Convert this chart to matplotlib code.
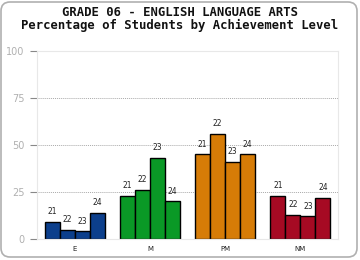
# Grade 06 ELA achievement level chart
import numpy as np
import matplotlib.pyplot as plt
from matplotlib.patches import FancyBboxPatch

# Data
levels = ['E', 'M', 'PM', 'NM']
years = ['21', '22', '23', '24']
pct_e = [9, 5, 4, 14]
pct_m = [23, 26, 43, 20]
pct_pm = [45, 56, 41, 45]
pct_nm = [23, 13, 12, 22]
colors = ['#0c3f8c', '#0a9926', '#d67c07', '#a60a23']
yticks = [0, 25, 50, 75, 100]

values = [pct_e, pct_m, pct_pm, pct_nm]

fig = plt.figure(figsize=(3.6, 2.6), dpi=100)
ax = fig.add_axes([37/360, 1-239/260, 301/360, 188.3/260])

# Rounded frame around the whole figure
frame = FancyBboxPatch((1/360, 3/260), 356/360, 255/260,
                       boxstyle='round,pad=0,rounding_size=0.025',
                       mutation_aspect=360/260,
                       transform=fig.transFigure, facecolor='none',
                       edgecolor='#b0b0b0', linewidth=1.2)
fig.patches.append(frame)

w = 0.2
for g, (vals, col) in enumerate(zip(values, colors)):
    for k, v in enumerate(vals):
        x = g - 0.3 + k * w
        ax.bar(x, v, width=w, color=col, edgecolor='black', linewidth=1)
        ax.annotate(years[k], (x, v), xytext=(0, 4), textcoords='offset points',
                    ha='center', va='bottom', fontsize=5.5, color='#222222')

ax.set_xlim(-0.5, 3.5)
ax.set_ylim(0, 100)
ax.set_xticks(range(4))
ax.set_xticklabels(levels, fontsize=5, color='#222222')
ax.tick_params(axis='x', length=0, pad=5)
ax.set_yticks(yticks)
ax.set_yticklabels([str(t) for t in yticks], fontsize=7, color='#b0b0b0')
ax.tick_params(axis='y', length=5, width=0.8, color='#888888', pad=4)

for t in [25, 50, 75]:
    ax.axhline(t, color='#aaaaaa', linestyle=(0, (1, 1)), linewidth=0.7, zorder=0)
for s in ax.spines.values():
    s.set_color('#e8e8e8')
    s.set_linewidth(0.8)

fig.text(0.5, 1-13/260, 'GRADE 06 - ENGLISH LANGUAGE ARTS', ha='center', va='center',
         fontsize=8.8, fontweight='bold', family='DejaVu Sans Mono', color='#111111')
fig.text(0.5, 1-25/260, 'Percentage of Students by Achievement Level', ha='center', va='center',
         fontsize=8.8, fontweight='bold', family='DejaVu Sans Mono', color='#111111')

fig.savefig('out.png', dpi=100)
